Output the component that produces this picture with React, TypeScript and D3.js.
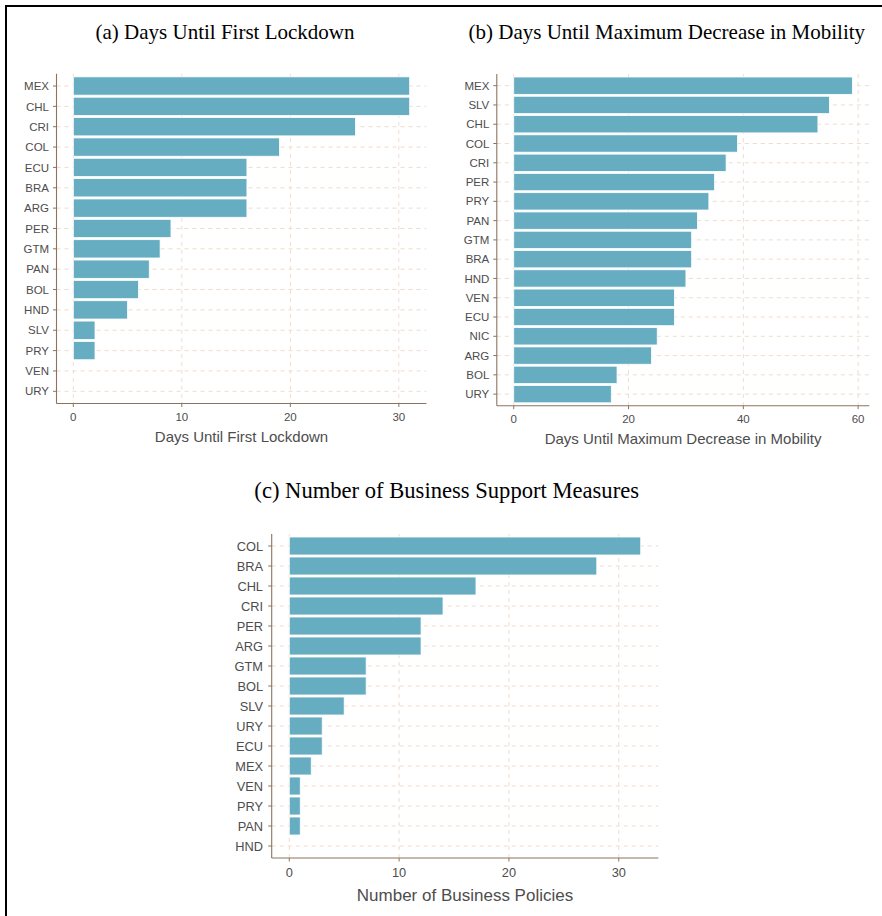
import React from "react";
import * as d3 from "d3";

// Panel (a): days until first lockdown
const lockdownCountries = ["MEX", "CHL", "CRI", "COL", "ECU", "BRA", "ARG", "PER", "GTM", "PAN", "BOL", "HND", "SLV", "PRY", "VEN", "URY"];
const lockdownDays = [31, 31, 26, 19, 16, 16, 16, 9, 8, 7, 6, 5, 2, 2, 0, 0];
const lockdownTicks = [0, 10, 20, 30];

// Panel (b): days until maximum decrease in mobility
const mobilityCountries = ["MEX", "SLV", "CHL", "COL", "CRI", "PER", "PRY", "PAN", "GTM", "BRA", "HND", "VEN", "ECU", "NIC", "ARG", "BOL", "URY"];
const mobilityDays = [59, 55, 53, 39, 37, 35, 34, 32, 31, 31, 30, 28, 28, 25, 24, 18, 17];
const mobilityTicks = [0, 20, 40, 60];

// Panel (c): number of business support measures
const businessCountries = ["COL", "BRA", "CHL", "CRI", "PER", "ARG", "GTM", "BOL", "SLV", "URY", "ECU", "MEX", "VEN", "PRY", "PAN", "HND"];
const businessPolicies = [32, 28, 17, 14, 12, 12, 7, 7, 5, 3, 3, 2, 1, 1, 1, 0];
const businessTicks = [0, 10, 20, 30];

const BAR_FILL = "#66adc2";
const GRID = "#efdccd";
const AXIS = "#8a745f";
const TEXT = "#4d4d4d";
const SANS = "'Liberation Sans', Arial, sans-serif";
const SERIF = "'Liberation Serif', 'Times New Roman', serif";

type PanelProps = {
  cats: string[];
  vals: number[];
  ticks: number[];
  left: number;
  right: number;
  top: number;
  bottom: number;
  title: string;
  titleX: number;
  titleY: number;
  titleSize: number;
  xLabel: string;
  xLabelY: number;
  xLabelSize: number;
  tickSize: number;
  tickLabelOffset: number;
  catGap: number;
};

function Panel(p: PanelProps) {
  const max = d3.max(p.vals) as number;
  const x = d3.scaleLinear().domain([-0.05 * max, max * 1.05]).range([p.left, p.right]);
  const y = d3.scalePoint<string>().domain(p.cats).range([p.top, p.bottom]).padding(0.6);
  const step = y.step();
  const barH = step * 0.9;
  const tickLen = 3.5;

  return (
    <g>
      <text x={p.titleX} y={p.titleY} textAnchor="middle" fontFamily={SERIF} fontSize={p.titleSize} fill="#000">
        {p.title}
      </text>
      {/* grid */}
      {p.cats.map((c) => (
        <line key={"h" + c} x1={p.left} x2={p.right} y1={y(c)} y2={y(c)} stroke={GRID} strokeWidth={1} strokeDasharray="4,4" />
      ))}
      {p.ticks.map((t) => (
        <line key={"v" + t} x1={x(t)} x2={x(t)} y1={p.top} y2={p.bottom} stroke={GRID} strokeWidth={1} strokeDasharray="4,4" />
      ))}
      {/* bars */}
      {p.cats.map((c, i) =>
        p.vals[i] > 0 ? (
          <rect
            key={"b" + c}
            x={x(0)}
            y={(y(c) as number) - barH / 2}
            width={x(p.vals[i]) - x(0)}
            height={barH}
            fill={BAR_FILL}
            stroke="#ffffff"
            strokeWidth={0.8}
          />
        ) : null
      )}
      {/* axes */}
      <line x1={p.left} x2={p.left} y1={p.top} y2={p.bottom} stroke={AXIS} strokeWidth={1.1} />
      <line x1={p.left} x2={p.right} y1={p.bottom} y2={p.bottom} stroke={AXIS} strokeWidth={1.1} />
      {p.cats.map((c) => (
        <g key={"yl" + c}>
          <line x1={p.left - tickLen} x2={p.left} y1={y(c)} y2={y(c)} stroke={AXIS} strokeWidth={1} />
          <text
            x={p.left - p.catGap}
            y={y(c)}
            dy="0.36em"
            textAnchor="end"
            fontFamily={SANS}
            fontSize={p.tickSize}
            fill={TEXT}
          >
            {c}
          </text>
        </g>
      ))}
      {p.ticks.map((t) => (
        <g key={"xl" + t}>
          <line x1={x(t)} x2={x(t)} y1={p.bottom} y2={p.bottom + tickLen} stroke={AXIS} strokeWidth={1} />
          <text x={x(t)} y={p.bottom + p.tickLabelOffset} textAnchor="middle" fontFamily={SANS} fontSize={p.tickSize} fill={TEXT}>
            {t}
          </text>
        </g>
      ))}
      <text x={(p.left + p.right) / 2} y={p.xLabelY} textAnchor="middle" fontFamily={SANS} fontSize={p.xLabelSize} fill={TEXT}>
        {p.xLabel}
      </text>
    </g>
  );
}

export default function App() {
  return (
    <svg width={882} height={916} style={{ position: "absolute", left: 0, top: 0, background: "#fff" }}>
      <rect width={882} height={916} fill="#fff" />
      <Panel
        cats={lockdownCountries}
        vals={lockdownDays}
        ticks={lockdownTicks}
        left={56.5}
        right={426.5}
        top={73.8}
        bottom={403.5}
        title="(a) Days Until First Lockdown"
        titleX={225}
        titleY={38.5}
        titleSize={21}
        xLabel="Days Until First Lockdown"
        xLabelY={442}
        xLabelSize={15}
        tickSize={11.5}
        tickLabelOffset={17.4}
        catGap={7.5}
      />
      <Panel
        cats={mobilityCountries}
        vals={mobilityDays}
        ticks={mobilityTicks}
        left={496.8}
        right={869.3}
        top={74.1}
        bottom={405.7}
        title="(b) Days Until Maximum Decrease in Mobility"
        titleX={666.8}
        titleY={38.5}
        titleSize={21}
        xLabel="Days Until Maximum Decrease in Mobility"
        xLabelY={444}
        xLabelSize={15}
        tickSize={11.5}
        tickLabelOffset={17.4}
        catGap={7.5}
      />
      <Panel
        cats={businessCountries}
        vals={businessPolicies}
        ticks={businessTicks}
        left={271.7}
        right={658.3}
        top={534}
        bottom={858}
        title="(c) Number of Business Support Measures"
        titleX={446.7}
        titleY={498}
        titleSize={22.6}
        xLabel="Number of Business Policies"
        xLabelY={900.5}
        xLabelSize={17}
        tickSize={12.8}
        tickLabelOffset={19}
        catGap={8.7}
      />
      {/* frame */}
      <line x1={5} x2={882} y1={6} y2={6} stroke="#000" strokeWidth={2} />
      <line x1={6} x2={6} y1={5} y2={916} stroke="#000" strokeWidth={2} />
    </svg>
  );
}
